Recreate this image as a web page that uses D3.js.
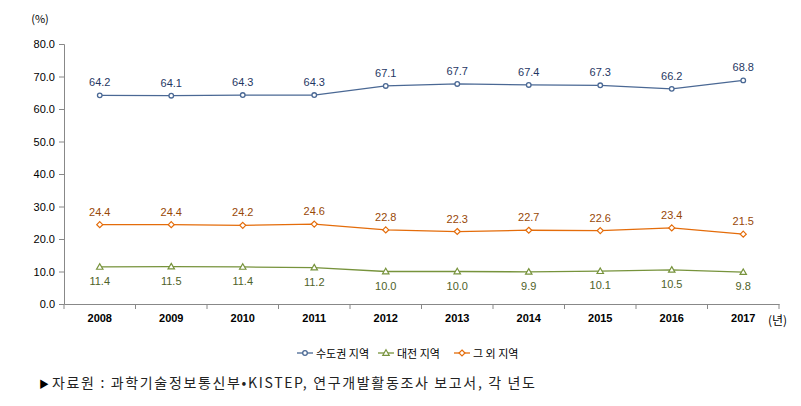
<!DOCTYPE html>
<html><head><meta charset="utf-8">
<script src="https://cdn.jsdelivr.net/npm/d3@7"></script>
<style>body{margin:0;background:#fff;} svg{display:block;font-family:"Noto Sans CJK KR","Noto Sans",sans-serif;}</style>
</head><body>
<svg id="c" width="801" height="406"></svg>
<script>
const years = ["2008","2009","2010","2011","2012","2013","2014","2015","2016","2017"];
const seriesNames = ["수도권 지역","대전 지역","그 외 지역"];
const capital = [64.2,64.1,64.3,64.3,67.1,67.7,67.4,67.3,66.2,68.8];
const daejeon = [11.4,11.5,11.4,11.2,10.0,10.0,9.9,10.1,10.5,9.8];
const others = [24.4,24.4,24.2,24.6,22.8,22.3,22.7,22.6,23.4,21.5];
const yTicks = [0,10,20,30,40,50,60,70,80];
const lineColors = ["#4a6894","#77933c","#e46c0a"];
const labelColors = ["#1f3864","#4f6228","#984807"];
const markers = ["circle","triangle","diamond"];

const svg = d3.select("#c");
const x = d3.scaleBand().domain(years).range([64,779]);
const y = d3.scaleLinear().domain([0,80]).range([304,44]);

const ya = svg.append("g").attr("transform","translate(64,0)")
  .call(d3.axisLeft(y).tickValues(yTicks).tickFormat(d3.format(".1f")).tickSizeOuter(0).tickSize(5));
ya.select(".domain").attr("stroke","#888");
ya.selectAll(".tick line").attr("stroke","#888");
ya.selectAll("text").attr("font-size","11px").attr("fill","#000").attr("font-family","Liberation Sans, sans-serif").attr("dx","-1");

const xa = svg.append("g").attr("transform","translate(0,304)")
  .call(d3.axisBottom(x).tickSize(0).tickSizeOuter(0));
xa.select(".domain").attr("stroke","#888");
xa.selectAll("text").attr("font-size","11px").attr("font-weight","bold").attr("fill","#000").attr("dy","1.4em").attr("font-family","Liberation Sans, sans-serif");
const bounds = years.map(d=>x(d)).concat([x.range()[1]]);
xa.selectAll(".bt").data(bounds).enter().append("line").attr("x1",d=>d).attr("x2",d=>d).attr("y1",0).attr("y2",5).attr("stroke","#888");

svg.append("text").attr("x",40).attr("y",23).attr("text-anchor","middle").attr("font-size","11px").attr("fill","#000").text("(%)");
svg.append("text").attr("x",768).attr("y",325).attr("font-size","12px").attr("fill","#000").text("(년)");

const data = [capital,daejeon,others];
const cx = d => x(d)+x.bandwidth()/2;
const line = d3.line().x((v,i)=>cx(years[i])).y(v=>y(v));

function marker(g,type,color,px,py){
  if(type==="circle") g.append("circle").attr("cx",px).attr("cy",py).attr("r",2.3).attr("fill","#fff").attr("stroke",color).attr("stroke-width",1.3);
  else if(type==="triangle") g.append("path").attr("d",`M${px},${py-3.2}L${px+3.2},${py+2.3}L${px-3.2},${py+2.3}Z`).attr("fill","#fff").attr("stroke",color).attr("stroke-width",1.2);
  else g.append("path").attr("d",`M${px},${py-3}L${px+3},${py}L${px},${py+3}L${px-3},${py}Z`).attr("fill","#fff").attr("stroke",color).attr("stroke-width",1.2);
}

data.forEach((vals,si)=>{
  const g = svg.append("g");
  g.append("path").attr("d",line(vals)).attr("fill","none").attr("stroke",lineColors[si]).attr("stroke-width",1.3);
  vals.forEach((v,i)=>{
    marker(g,markers[si],lineColors[si],cx(years[i]),y(v));
    const below = si===1;
    g.append("text").attr("x",cx(years[i])).attr("y",below? y(v)+18 : y(v)-9)
      .attr("text-anchor","middle").attr("font-size","11px").attr("fill",labelColors[si])
      .attr("font-family","Liberation Sans, sans-serif").text(v.toFixed(1));
  });
});

const legX = [297,378,454];
seriesNames.forEach((n,i)=>{
  const g = svg.append("g");
  g.append("line").attr("x1",legX[i]).attr("x2",legX[i]+16).attr("y1",353).attr("y2",353).attr("stroke",lineColors[i]).attr("stroke-width",1.3);
  marker(g,markers[i],lineColors[i],legX[i]+8,353);
  g.append("text").attr("x",legX[i]+19).attr("y",357.5).attr("font-size","11px").attr("fill","#000").text(n);
});

svg.append("text").attr("x",39).attr("y",388).attr("font-size","10px").attr("fill","#000").text("▶");
svg.append("text").attr("x",52).attr("y",388).attr("font-size","14px").attr("fill","#222")
  .attr("textLength",483).attr("lengthAdjust","spacing")
  .text("자료원 : 과학기술정보통신부•KISTEP, 연구개발활동조사 보고서, 각 년도");
</script>
</body></html>
